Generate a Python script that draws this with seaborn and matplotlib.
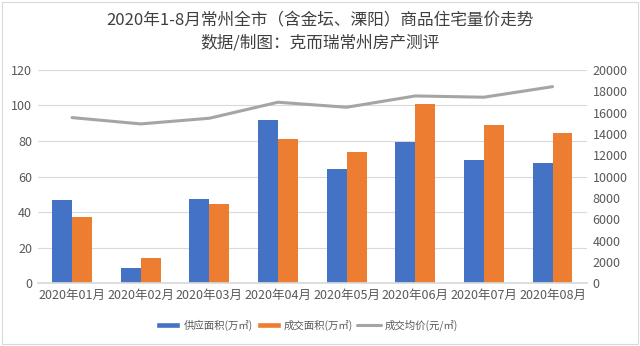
import matplotlib
matplotlib.use("Agg")
import matplotlib.pyplot as plt
import seaborn as sns
import pandas as pd
import numpy as np

months = ["2020年01月", "2020年02月", "2020年03月", "2020年04月",
          "2020年05月", "2020年06月", "2020年07月", "2020年08月"]
supply = [47.0, 8.4, 47.2, 91.9, 64.1, 79.5, 69.5, 67.8]
sold = [37.5, 14.1, 44.6, 81.0, 74.0, 101.0, 88.9, 84.5]
price = [15530, 14940, 15470, 16970, 16500, 17560, 17440, 18430]

s_supply = "供应面积(万㎡)"
s_sold = "成交面积(万㎡)"
s_price = "成交均价(元/㎡)"

sns.set_theme(style="white")
plt.rcParams['font.family'] = ['Noto Sans CJK SC', 'DejaVu Sans']

df = pd.DataFrame({
    "month": months * 2,
    "value": supply + sold,
    "series": [s_supply] * len(months) + [s_sold] * len(months),
})
dfl = pd.DataFrame({"month": months, "price": price})

fig = plt.figure(figsize=(6.4, 3.46), dpi=100)
ax = fig.add_axes([0.059, 0.181, 0.858, 0.617])
sns.barplot(data=df, x="month", y="value", hue="series",
            palette=["#4472C4", "#ED7D31"], width=0.58, ax=ax,
            saturation=1, legend=False, linewidth=0)
ax.set_ylim(0, 120)
ax.set_yticks(range(0, 121, 20))
ax.set_xlim(-0.5, len(months) - 0.5)
ax.grid(axis="y", color="#D9D9D9", linewidth=0.8)
ax.set_axisbelow(True)
for sp in ["top", "right", "left"]:
    ax.spines[sp].set_visible(False)
ax.spines["bottom"].set_color("#D9D9D9")
ax.set_xlabel("")
ax.set_ylabel("")
ax.tick_params(axis="both", labelsize=9, colors="#595959", length=0, pad=4)

ax2 = ax.twinx()
sns.lineplot(data=dfl, x="month", y="price", ax=ax2, color="#A5A5A5",
             linewidth=2.2, sort=False)
ax2.set_ylim(0, 20000)
ax2.set_yticks(range(0, 20001, 2000))
ax2.set_ylabel("")
for sp in ["top", "right", "left", "bottom"]:
    ax2.spines[sp].set_visible(False)
ax2.tick_params(axis="y", labelsize=9, colors="#595959", length=0, pad=4)
ax2.set_xlim(-0.5, len(months) - 0.5)

fig.text(0.5, 0.94, "2020年1-8月常州全市（含金坛、溧阳）商品住宅量价走势",
         ha="center", va="center", fontsize=12, color="#404040")
fig.text(0.5, 0.875, "数据/制图：克而瑞常州房产测评",
         ha="center", va="center", fontsize=12, color="#404040")

from matplotlib.patches import Patch
from matplotlib.lines import Line2D
handles = [Patch(facecolor="#4472C4", label=s_supply),
           Patch(facecolor="#ED7D31", label=s_sold),
           Line2D([0], [0], color="#A5A5A5", linewidth=2.2, label=s_price)]
fig.legend(handles=handles, loc="center", bbox_to_anchor=(0.48, 0.06), ncol=3,
           frameon=False, fontsize=7.5, handlelength=2.3, handleheight=0.6,
           columnspacing=0.4, handletextpad=0.3, labelcolor="#595959")

fig.add_artist(plt.Rectangle((0.003, 0.005), 0.994, 0.99, transform=fig.transFigure,
                             fill=False, edgecolor="#D9D9D9", linewidth=0.8))

fig.savefig("out.png", dpi=100)
